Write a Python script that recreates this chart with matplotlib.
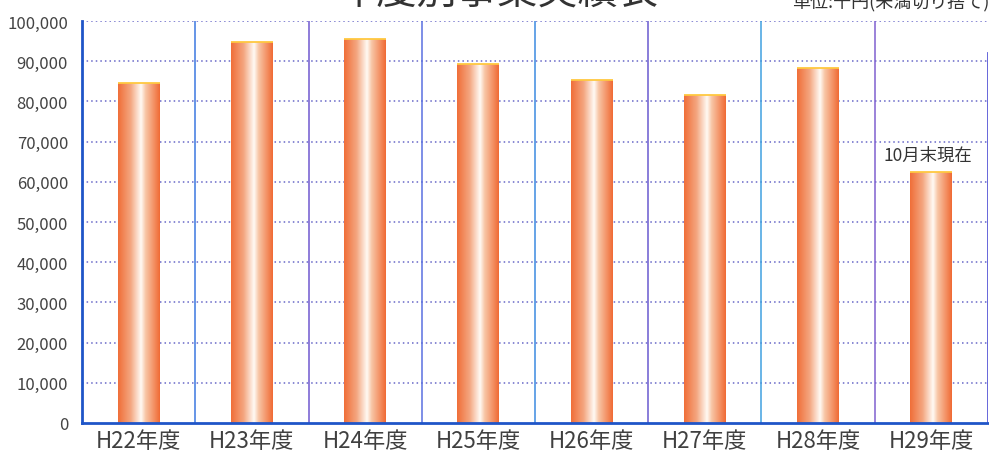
import numpy as np
import matplotlib
matplotlib.use('Agg')
import matplotlib.pyplot as plt
from matplotlib.colors import LinearSegmentedColormap
from matplotlib.ticker import FuncFormatter

plt.rcParams['font.family'] = ['Noto Sans CJK JP', 'DejaVu Sans']

# data (千円)
years = ['H22年度', 'H23年度', 'H24年度', 'H25年度',
         'H26年度', 'H27年度', 'H28年度', 'H29年度']
amounts = [84700, 94700, 95500, 89400, 85300, 81500, 88400, 62400]
yticks = list(range(0, 100001, 10000))
title = '年度別事業実績表'
unit_note = '単位:千円(未満切り捨て)'
last_note = '10月末現在'

fig = plt.figure(figsize=(9.89, 4.56), dpi=100)
ax = fig.add_axes([82 / 989, 1 - 424 / 456, 906 / 989, (424 - 22) / 456])

x = np.arange(len(years))
bar_width = 0.37
bars = ax.bar(x, amounts, width=bar_width, facecolor='none', edgecolor='none', zorder=3)

# orange -> white -> orange cylinder-like shading
grad_cmap = LinearSegmentedColormap.from_list('cyl', [
    (0.0, '#f06e38'),
    (0.30, '#f4a680'),
    (0.55, '#fffaf4'),
    (0.66, '#f8c6a6'),
    (1.0, '#f06a34'),
])
grad = np.linspace(0, 1, 256).reshape(1, -1)
for b in bars:
    x0, w, h = b.get_x(), b.get_width(), b.get_height()
    im = ax.imshow(grad, extent=[x0, x0 + w, 0, h], aspect='auto',
                   cmap=grad_cmap, zorder=3, interpolation='bilinear')
    im.set_clip_path(b)
    ax.hlines(h, x0, x0 + w, color='#ffc840', lw=1.3, zorder=4)

ax.set_xlim(-0.5, len(years) - 0.5)
ax.set_ylim(0, 100000)

# dotted horizontal grid
for v in yticks[1:]:
    ax.axhline(v, color='#6868c8', lw=1.1, ls=(0, (1, 2)), zorder=1)

# category separators
sep_colors = ['#3c78e0', '#7058d0', '#5a70e0', '#3c8ae0', '#6a5ad0', '#40a0e0', '#8060d0']
for i in range(len(years) - 1):
    ax.axvline(i + 0.5, color=sep_colors[i % len(sep_colors)], lw=1.1, zorder=2)
# right edge line (starts a bit below the top in the scan)
ax.axvline(len(years) - 0.5 - 0.004, ymax=0.92, color='#5a5ad8', lw=1.3, zorder=2)

ax.spines['top'].set_visible(False)
ax.spines['right'].set_visible(False)
ax.spines['left'].set_color('#1f55c8')
ax.spines['left'].set_linewidth(2)
ax.spines['bottom'].set_color('#1f55c8')
ax.spines['bottom'].set_linewidth(2)
ax.spines['left'].set_zorder(5)
ax.spines['bottom'].set_zorder(5)

ax.set_yticks(yticks)
ax.yaxis.set_major_formatter(FuncFormatter(lambda v, p: f'{int(v):,}'))
ax.set_xticks(x)
ax.set_xticklabels(years)
ax.tick_params(axis='y', length=0, pad=10, labelsize=12, labelcolor='#444444')
ax.tick_params(axis='x', length=0, pad=4, labelsize=16, labelcolor='#404040')

ax.text(x[-1] - 0.03, amounts[-1] + 2000, last_note, ha='center', va='bottom',
        fontsize=12.5, color='#333333')

fig.text(497 / 989, 1 - 13 / 456, title, ha='center', va='bottom',
         fontsize=29, color='#333333')
fig.text(989 / 989, 1 - 11 / 456, unit_note, ha='right', va='bottom',
         fontsize=13, color='#333333')

fig.savefig('out.png', dpi=100)
